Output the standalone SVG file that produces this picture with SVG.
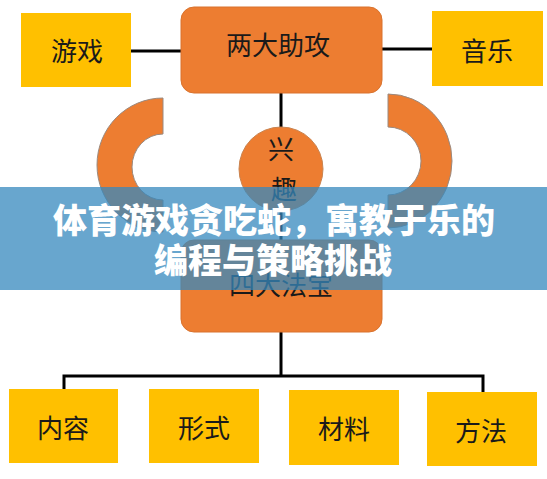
<svg xmlns="http://www.w3.org/2000/svg" width="547" height="479" viewBox="0 0 547 479">
<style>
.y{fill:#FFC000}
.o{fill:#ED7D31;stroke:#D9732E;stroke-width:1}
.arc{fill:#ED7D31;stroke:#9A8A80;stroke-width:1}
.t{font-family:"Noto Sans CJK SC","Noto Sans",sans-serif;font-size:26px;fill:#1a1a1a;text-anchor:middle}
.ln{stroke:#000;stroke-width:3;fill:none}
.bt{font-family:"Noto Sans CJK SC","Noto Sans",sans-serif;font-size:34px;font-weight:900;fill:#fff;text-anchor:middle}
</style>
<rect width="547" height="479" fill="#fff"/>
<g id="connectors">
<line class="ln" x1="131" y1="51" x2="181" y2="51"/>
<line class="ln" x1="382" y1="49" x2="432" y2="49"/>
<line class="ln" x1="281" y1="93" x2="281" y2="128"/>
<line class="ln" x1="281" y1="211" x2="281" y2="240"/>
<line class="ln" x1="281" y1="332" x2="281" y2="376"/>
<polyline class="ln" points="64,391 64,376 483,376 483,392"/>
</g>
<g id="arc-left">
<path class="arc" d="M163,98 A66,67 0 0 0 163,232 L163,200 A31,33 0 0 1 163,134 Z"/>
</g>
<g id="arc-right">
<path class="arc" d="M388,94 A64,67 0 0 1 388,228 L388,195 A33,34 0 0 0 388,127 Z"/>
</g>
<g id="node-games">
<rect class="y" x="21" y="13" width="110" height="74"/>
<text class="t" x="77" y="61">游戏</text>
</g>
<g id="node-top">
<rect class="o" x="181" y="7" width="201" height="86" rx="13"/>
<text class="t" x="278" y="55">两大助攻</text>
</g>
<g id="node-music">
<rect class="y" x="432" y="11" width="111" height="75"/>
<text class="t" x="487" y="61">音乐</text>
</g>
<g id="node-interest">
<circle cx="281" cy="169" r="42" fill="#ED7D31" stroke="#C9834F" stroke-width="1"/>
<text class="t" x="281" y="159">兴</text>
<text class="t" x="284" y="199">趣</text>
</g>
<g id="node-bottom">
<rect class="o" x="181" y="240" width="201" height="92" rx="13"/>
<text class="t" x="281" y="295">四大法宝</text>
</g>
<g id="node-content">
<rect class="y" x="9" y="389" width="109" height="74"/>
<text class="t" x="63" y="438">内容</text>
</g>
<g id="node-form">
<rect class="y" x="149" y="389" width="110" height="74"/>
<text class="t" x="204" y="438">形式</text>
</g>
<g id="node-material">
<rect class="y" x="289" y="390" width="110" height="75"/>
<text class="t" x="344" y="439">材料</text>
</g>
<g id="node-method">
<rect class="y" x="427" y="392" width="110" height="74"/>
<text class="t" x="481" y="441">方法</text>
</g>
<g id="banner">
<rect x="0" y="187" width="547" height="103" fill="#3688BE" fill-opacity="0.75"/>
<text class="bt" x="274" y="233">体育游戏贪吃蛇，寓教于乐的</text>
<text class="bt" x="273" y="273">编程与策略挑战</text>
</g>
</svg>
